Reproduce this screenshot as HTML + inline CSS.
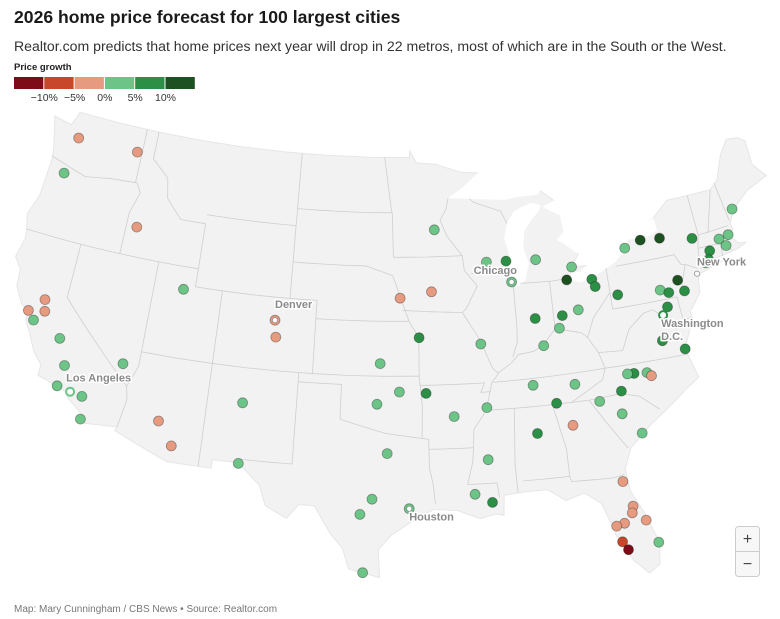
<!DOCTYPE html>
<html><head><meta charset="utf-8">
<style>
body{margin:0;background:#fff;font-family:"Liberation Sans",sans-serif;}
#wrap{position:relative;width:780px;height:619px;overflow:hidden;}
.lbl{font-size:11px;font-weight:bold;fill:#8a8a8a;stroke:#fff;stroke-width:3px;paint-order:stroke;stroke-linejoin:round;}
</style></head>
<body>
<div id="wrap">
<svg id="svg" width="780" height="619" viewBox="0 0 780 619">
<text x="14" y="23" font-size="17.6" font-weight="bold" fill="#1a1a1a">2026 home price forecast for 100 largest cities</text>
<text x="14" y="51" font-size="14.1" fill="#333">Realtor.com predicts that home prices  next year will drop in 22 metros, most of which are in the South or the West.</text>
<text x="14" y="70" font-size="9.5" font-weight="bold" fill="#222">Price growth</text>
<g id="legend"></g>
<g id="land"></g>
<g id="dots"></g>
<g id="labels"></g>
<text x="14" y="612" font-size="10" fill="#777">Map: Mary Cunningham / CBS News • Source: Realtor.com</text>
<g>
<rect x="735.5" y="526.5" width="24" height="50" rx="3" fill="#f7f7f7" stroke="#ccc"/>
<line x1="736" y1="551.5" x2="759" y2="551.5" stroke="#ccc"/>
<rect x="736" y="527" width="23" height="24" fill="transparent"/>
<text x="747.5" y="544" font-size="16" text-anchor="middle" fill="#444">+</text>
<rect x="736" y="552" width="23" height="24" fill="transparent"/>
<text x="747.5" y="569" font-size="16" text-anchor="middle" fill="#444">−</text>
</g>
</svg>
</div>
<script>
// ---- data ----
const binColors = ["#7d0c18","#c8472a","#e69a7f","#6cc486","#2b8f45","#1d5121"];
const binEdges = [-10,-5,0,5,10];
const tickLabels = ["−10%","−5%","0%","5%","10%"];
const cityNames = ["Seattle","Spokane","Portland","Boise","Salt Lake City","Sacramento","Stockton","San Francisco","San Jose","Fresno","Bakersfield","Las Vegas","Oxnard","Riverside","San Diego","Phoenix","Tucson","Albuquerque","El Paso","Denver","Colorado Springs","Omaha","Des Moines","Minneapolis","Kansas City","Wichita","Tulsa","Oklahoma City","Fayetteville","Little Rock","Memphis","Jackson","Dallas","Austin","San Antonio","Houston","McAllen","Baton Rouge","New Orleans","Birmingham","Chattanooga","Nashville","Knoxville","Atlanta","Greenville","Columbia","Charlotte","Charleston","Greensboro","Winston-Salem","Durham","Raleigh","Jacksonville","Deltona","Orlando","Palm Bay","Lakeland","Tampa","North Port","Cape Coral","West Palm Beach","St. Louis","Louisville","Cincinnati","Indianapolis","Dayton","Columbus","Chicago","Milwaukee","Madison","Grand Rapids","Detroit","Toledo","Cleveland","Akron","Pittsburgh","Buffalo","Rochester","Syracuse","Albany","Portland ME","Boston","Worcester","Providence","Hartford","New Haven","Bridgeport","Allentown","Philadelphia","Harrisburg","Lancaster","Baltimore","Richmond","Virginia Beach","Los Angeles","Washington"];
const cityLon = [-122.33,-117.43,-122.68,-116.2,-111.89,-121.49,-121.29,-122.42,-121.89,-119.79,-119.02,-115.14,-119.18,-117.4,-117.16,-112.07,-110.97,-106.65,-106.49,-104.99,-104.82,-95.94,-93.61,-93.27,-94.58,-97.34,-95.99,-97.52,-94.16,-92.29,-90.05,-90.18,-96.8,-97.74,-98.49,-95.37,-98.23,-91.15,-90.07,-86.8,-85.31,-86.78,-83.92,-84.39,-82.4,-81.03,-80.84,-79.93,-79.79,-80.24,-78.9,-78.64,-81.66,-81.26,-81.38,-80.59,-81.95,-82.46,-82.24,-81.95,-80.05,-90.2,-85.76,-84.51,-86.16,-84.19,-82.99,-87.63,-87.91,-89.4,-85.67,-83.05,-83.54,-81.69,-81.52,-79.99,-78.88,-77.61,-76.15,-73.76,-70.26,-71.06,-71.8,-71.41,-72.69,-72.93,-73.2,-75.49,-75.17,-76.88,-76.31,-76.61,-77.44,-76.0,-118.24,-77.04];
const cityLat = [47.61,47.66,45.52,43.62,40.76,38.58,37.96,37.77,37.34,36.74,35.37,36.17,34.2,33.95,32.72,33.45,32.22,35.08,31.76,39.74,38.83,41.26,41.59,44.98,39.1,37.69,36.15,35.47,36.06,34.75,35.15,32.3,32.78,30.27,29.42,29.76,26.2,30.45,29.95,33.52,35.05,36.16,35.96,33.75,34.85,34.0,35.23,32.78,36.07,36.1,35.99,35.78,30.33,28.9,28.54,28.03,28.04,27.95,27.04,26.56,26.71,38.63,38.25,39.1,39.77,39.76,39.96,41.88,43.04,43.07,42.96,42.33,41.66,41.5,41.08,40.44,42.89,43.16,43.05,42.65,43.66,42.36,42.26,41.82,41.76,41.31,41.18,40.6,39.95,40.27,40.04,39.29,37.54,36.85,34.05,38.9];
const cityGrowth = [-2,-2,3,-2,3,-2,-2,-2,3,3,3,3,3,3,3,-2,-2,3,3,-2,-2,-2,-2,3,7,3,3,3,7,3,3,3,3,3,3,3,3,3,7,7,7,3,3,-2,3,3,7,3,7,3,3,-2,-2,-2,-2,-2,-2,-2,-7,-11,3,3,3,3,7,7,3,3,7,3,3,3,11,7,7,7,3,11,11,7,3,3,3,3,7,7,3,11,7,3,7,7,7,7,3,7];
const ringCities = ["Los Angeles","Washington"];
const labelNames = ["Los Angeles","Denver","Chicago","Houston","New York","Washington"];
const labelLon = [-118.24,-104.99,-87.63,-95.37,-74.0,-77.04];
const labelLat = [34.05,39.74,41.88,29.76,40.71,38.9];

// ---- projection (Albers conic fitted to the picture) ----
const R = Math.PI/180, P1=29.5*R, P2=45.5*R;
const N = (Math.sin(P1)+Math.sin(P2))/2;
const C = Math.cos(P1)*Math.cos(P1)+2*N*Math.sin(P1);
const RHO0 = Math.sqrt(C-2*N*Math.sin(37.5*R))/N;
function proj(lon,lat){
  const rho=Math.sqrt(C-2*N*Math.sin(lat*R))/N, th=N*(lon+96)*R;
  const x=rho*Math.sin(th), y=RHO0-rho*Math.cos(th);
  return [399.3+1041*x, 367.2-1041*y];
}
function colorFor(v){let i=0;while(i<binEdges.length&&v>=binEdges[i])i++;return binColors[i];}

// ---- geometry ----
const outline=[[-124.7,48.4],[-123.2,48.2],[-122.8,49],[-95.15,49],[-95.15,49.4],[-94.6,48.7],[-93,48.6],[-91,48.1],[-89.5,48],[-88.4,48.3],[-86,47.5],[-84.4,46.5],[-82.5,45.3],[-82.4,43],[-83.1,42.3],[-81,42.3],[-79,42.8],[-78,43.6],[-76.3,44.2],[-75,45],[-71.5,45],[-70.8,45.4],[-70,46.7],[-69.2,47.45],[-68.3,47.35],[-67.8,47.07],[-67.8,45.7],[-67,44.9],[-68.8,44.4],[-70.2,43.6],[-70.7,42.9],[-70.6,42.6],[-71,42.3],[-70.5,41.8],[-69.95,41.7],[-70.6,41.5],[-71.4,41.4],[-72.9,41.25],[-72,41.05],[-73.7,40.7],[-73.9,40.55],[-74,40.4],[-74.1,39.7],[-74.9,38.95],[-75.1,38.8],[-75.05,38.4],[-75.6,37.5],[-76,36.9],[-75.5,35.2],[-76.5,34.7],[-77.9,33.9],[-79.2,33.2],[-80.8,32.1],[-81.4,31],[-81.3,29.8],[-80.6,28.4],[-80,26.7],[-80.2,25.5],[-80.9,25.1],[-81.7,25.9],[-82.6,27.5],[-82.8,28.2],[-83.2,29.3],[-84.2,30],[-85.4,29.7],[-86.5,30.4],[-88,30.4],[-89.3,30.3],[-89.4,29.2],[-89.9,29.3],[-90.9,29.1],[-92.3,29.6],[-93.8,29.7],[-94.8,29.3],[-96.5,28.3],[-97.3,27.5],[-97.2,25.95],[-99.1,26.4],[-99.5,27.5],[-100.3,28.3],[-101.4,29.8],[-102.4,29.8],[-103.1,29],[-104.5,29.6],[-105,30.7],[-106.5,31.8],[-108.2,31.8],[-108.2,31.33],[-111.1,31.33],[-114.8,32.5],[-114.7,32.72],[-117.1,32.53],[-117.3,33.1],[-118.3,33.7],[-118.5,34],[-119.2,34.2],[-120.6,34.5],[-120.6,35.1],[-121.3,35.7],[-121.9,36.6],[-122.4,37.2],[-122.5,37.8],[-123,38],[-123.7,38.9],[-123.8,39.8],[-124.4,40.4],[-124.1,41.5],[-124.2,42],[-124.5,42.8],[-124,44],[-123.9,46.2],[-124.1,46.9],[-124.7,48.4]];
const lakes=[
[[-92.1,46.7],[-90.4,46.6],[-87.6,46.4],[-86.5,46.5],[-84.9,46.5],[-84.6,46.9],[-85,47.4],[-86.6,48.6],[-88.3,48.8],[-89.6,48],[-90.8,47.3]],
[[-87.8,41.7],[-87.2,41.6],[-86.6,41.9],[-86.2,42.8],[-86.5,43.7],[-86.3,44.6],[-85.6,45.2],[-85,45.6],[-84.8,45.9],[-85.5,46.1],[-86.4,45.9],[-87,45.7],[-87.6,45.1],[-87.9,44.3],[-87.6,43.3],[-87.9,42.5]],
[[-84.7,45.8],[-83.4,45.2],[-83.3,44.3],[-83.9,43.9],[-83.3,43.6],[-82.5,43],[-81.7,43.3],[-81.6,44.9],[-81.7,45.9],[-83.6,46.1]],
[[-83.4,41.7],[-82.5,41.4],[-81,41.8],[-79.8,42.2],[-78.9,42.8],[-80.3,42.6],[-81.3,42.6],[-82.5,42],[-83.1,42]],
[[-79.8,43.3],[-78.5,43.3],[-76.8,43.3],[-76.2,43.5],[-76.3,44.2],[-77,44],[-78,43.9],[-79.4,43.6]]];
const borders=[
[[-124,46.25],[-121,45.65],[-119,45.9],[-116.9,46]],[[-117.04,46],[-117.04,49]],
[[-116.9,46],[-116.5,45.5],[-117,44.3],[-117.03,42]],[[-124.2,42],[-111.05,42]],
[[-120,42],[-120,39],[-114.6,35]],[[-114.6,35],[-114.05,36.2]],[[-114.05,42],[-114.05,36.2]],
[[-114.6,35],[-114.4,34.3],[-114.7,32.72]],[[-114.05,37],[-94.62,37]],[[-109.05,41],[-109.05,31.33]],
[[-111.05,42],[-111.05,41],[-102.05,41]],[[-111.05,44.5],[-113,44.5],[-114.3,45.5],[-114.6,46.6],[-116.05,47.5],[-116.05,49]],
[[-111.05,44.5],[-111.05,42]],[[-111.05,45],[-104.05,45]],[[-104.05,49],[-104.05,41]],[[-102.05,41],[-102.05,37]],
[[-103,37],[-103,32],[-106.6,32]],[[-103,36.5],[-100,36.5],[-100,34.6],[-97,33.9],[-94.5,33.6],[-94.04,33.55]],
[[-94.04,33.55],[-94.04,32],[-93.8,31],[-93.7,30]],[[-97.2,49],[-96.6,46],[-96.55,45.9],[-96.45,43.5]],
[[-104.05,45.94],[-96.56,45.94]],[[-104.05,43],[-98.5,43],[-96.5,42.5]],[[-102.05,40],[-95.3,40]],
[[-96.5,42.5],[-95.9,41.3],[-95.3,40]],[[-95.3,40],[-94.6,39.1],[-94.62,37]],
[[-94.62,36.5],[-90.1,36.5],[-90.4,36],[-89.7,36]],[[-94.62,37],[-94.43,35.4],[-94.48,33.64]],[[-94.04,33],[-91.1,33]],
[[-91.2,43.5],[-91.1,42.7],[-90.2,41.8],[-91.1,40.6],[-91.4,40.4],[-90.2,38.8],[-89.5,37.3],[-89.1,36.95],[-89.6,36.5],[-90.1,35],[-91,34],[-91.1,33],[-91.2,32.2],[-91.6,31]],
[[-91.6,31],[-89.7,31],[-89.6,30.2]],[[-96.45,43.5],[-91.2,43.5]],[[-95.77,40.6],[-91.4,40.4]],
[[-92.1,46.7],[-92.3,46.1],[-92.8,45.5],[-92.3,44.6],[-91.2,43.5]],[[-90.6,42.5],[-87.8,42.5]],[[-87.6,45.1],[-88,45.8],[-90.1,46.4],[-90.4,46.6]],
[[-87.53,41.76],[-87.53,39.4],[-87.6,38.6],[-88,37.8]],[[-89.1,37],[-88.1,37.5],[-87.6,37.9],[-86.5,38],[-85.8,38.3],[-84.8,39.1],[-83,38.7],[-82.6,38.4],[-82,39.4],[-80.52,40.64]],
[[-84.82,41.7],[-84.82,39.1]],[[-87,41.76],[-84.8,41.7],[-83.45,41.73]],[[-89.5,36.5],[-81.7,36.6],[-75.9,36.55]],
[[-82.6,38.4],[-82,37.5],[-81.7,36.6]],[[-90.3,35],[-84.3,35],[-83.1,35]],[[-84.3,35],[-82,36],[-81.7,36.6]],
[[-88.2,35],[-88.45,31.9],[-88.4,30.4]],[[-85.6,35],[-85,32.5],[-85,31]],[[-88,31],[-85,31],[-84.9,30.7],[-82.2,30.6],[-81.5,30.7]],
[[-83.1,35],[-82.4,34],[-81,32.1]],[[-83.1,35],[-80.9,35.1],[-79.7,34.8],[-78.5,33.9]],
[[-82,37.5],[-80.3,37.4],[-79.6,38.5],[-78.4,39.2],[-77.7,39.3]],[[-77.7,39.3],[-77,38.8],[-76.3,38]],
[[-80.52,39.72],[-75.8,39.72]],[[-80.52,42],[-80.52,39.72]],[[-79.76,42],[-75.35,42],[-75,41.4],[-74.7,41.35]],
[[-74.7,41.35],[-73.9,41]],[[-74.7,41.35],[-75.1,40.6],[-75.5,39.8]],[[-75.8,39.72],[-75.7,38.45],[-75.05,38.45]],
[[-73.35,45],[-73.25,42.75],[-73.5,42.05],[-73.65,41]],[[-72.5,42.73],[-71.5,45]],[[-73.25,42.75],[-70.9,42.85]],
[[-73.5,42.05],[-71.8,42.02],[-71.4,42]],[[-71.8,42.02],[-71.85,41.3]],[[-71.4,42],[-71.1,41.5]],[[-70.7,43.1],[-71.08,45.3]]];

function pathOf(pts,close){
  let d="";
  for(let i=0;i<pts.length;i++){
    const a=pts[i], b=pts[i+1];
    if(i===0){const p=proj(a[0],a[1]);d+="M"+p[0].toFixed(1)+","+p[1].toFixed(1);}
    if(!b)break;
    for(let k=1;k<=8;k++){const t=k/8;const p=proj(a[0]+(b[0]-a[0])*t,a[1]+(b[1]-a[1])*t);d+="L"+p[0].toFixed(1)+","+p[1].toFixed(1);}
  }
  return d+(close?"Z":"");
}
const NS="http://www.w3.org/2000/svg";
const land=document.getElementById("land");
let el=document.createElementNS(NS,"path");
el.setAttribute("d",pathOf(outline,true));el.setAttribute("fill","#f2f2f2");el.setAttribute("stroke","#e6e6e6");


land.appendChild(el);
lakes.forEach(function(l){
  const e=document.createElementNS(NS,"path");
  e.setAttribute("d",pathOf(l,true));e.setAttribute("fill","#fff");
  
  
  land.appendChild(e);
});
borders.forEach(function(b){
  const e=document.createElementNS(NS,"path");
  e.setAttribute("d",pathOf(b,false));e.setAttribute("fill","none");e.setAttribute("stroke","#cfcfcf");e.setAttribute("stroke-width","0.8");
  
  
  land.appendChild(e);
});

// legend
const lg=document.getElementById("legend");
binColors.forEach(function(c,i){
  const r=document.createElementNS(NS,"rect");
  r.setAttribute("x",14+i*30.3);r.setAttribute("y",77);r.setAttribute("width",29.3);r.setAttribute("height",12);r.setAttribute("fill",c);
  
  
  lg.appendChild(r);
});
tickLabels.forEach(function(t,i){
  const tx=document.createElementNS(NS,"text");
  tx.setAttribute("x",14+(i+1)*30.3);tx.setAttribute("y",101);tx.setAttribute("font-size","10.5");tx.setAttribute("fill","#333");tx.setAttribute("text-anchor","middle");
  tx.textContent=t;
  
  
  lg.appendChild(tx);
});

// dots
const dg=document.getElementById("dots");
cityNames.forEach(function(nm,i){
  const p=proj(cityLon[i],cityLat[i]);
  const c=document.createElementNS(NS,"circle");
  c.setAttribute("cx",p[0].toFixed(1));c.setAttribute("cy",p[1].toFixed(1));
  const col=colorFor(cityGrowth[i]);
  if(ringCities.indexOf(nm)>=0){c.setAttribute("r",4);c.setAttribute("fill","#fff");c.setAttribute("stroke",col);c.setAttribute("stroke-width","2");}
  else{c.setAttribute("r",5);c.setAttribute("fill",col);c.setAttribute("stroke","rgba(0,0,0,0.35)");c.setAttribute("stroke-width","0.8");}
  
  
  const tt=document.createElementNS(NS,"title");tt.textContent=nm+": "+cityGrowth[i]+"%";c.appendChild(tt);
  dg.appendChild(c);
});

// labels
const lb=document.getElementById("labels");
const labelDx=[0,0,-38,0,0,0], labelDy=[-10,-12,-8,12,-8,12];
labelNames.forEach(function(nm,i){
  const p=proj(labelLon[i],labelLat[i]);
  if(nm!=="Los Angeles"&&nm!=="Washington"){
    const d=document.createElementNS(NS,"circle");
    d.setAttribute("cx",p[0].toFixed(1));d.setAttribute("cy",p[1].toFixed(1));d.setAttribute("r",2.6);d.setAttribute("fill","#fff");d.setAttribute("stroke","#888");d.setAttribute("stroke-width","0.7");
    
    
    lb.appendChild(d);
  }
  const t=document.createElementNS(NS,"text");
  t.setAttribute("class","lbl");
  t.setAttribute("x",(p[0]+labelDx[i]).toFixed(1));t.setAttribute("y",(p[1]+labelDy[i]).toFixed(1));
  if(nm==="Washington"){t.setAttribute("x",(p[0]-2).toFixed(1));
    const s1=document.createElementNS(NS,"tspan");s1.textContent="Washington";t.appendChild(s1);
    const s2=document.createElementNS(NS,"tspan");s2.setAttribute("x",(p[0]-2).toFixed(1));s2.setAttribute("dy","13");s2.textContent="D.C.";t.appendChild(s2);
  } else t.textContent=nm;
  if(nm==="Los Angeles")t.setAttribute("x",(p[0]-4).toFixed(1));
  
  
  lb.appendChild(t);
});
</script>
</body></html>
